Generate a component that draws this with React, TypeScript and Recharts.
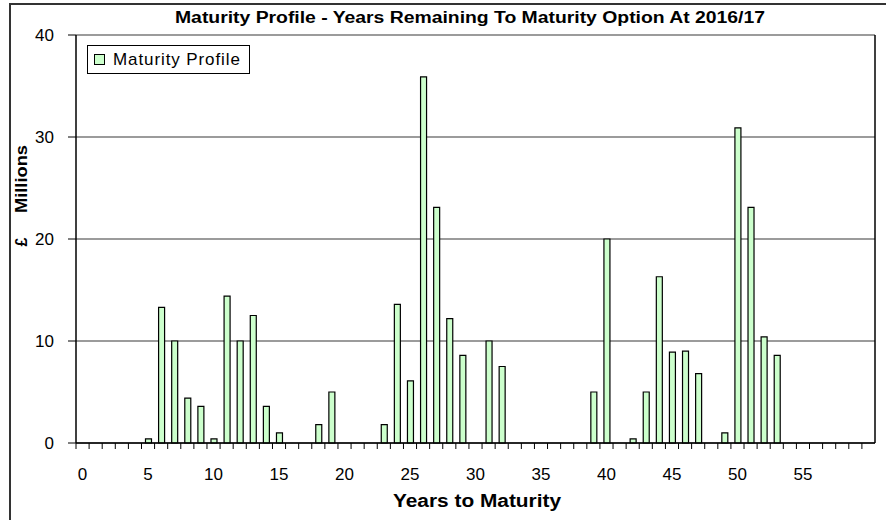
import * as React from "react"
import { BarChart, Bar, XAxis, YAxis, CartesianGrid, Legend } from "recharts"

// years remaining to maturity (0..60) and amounts in £ millions
const years: number[] = Array.from({ length: 61 }, (_, i) => i)
const maturity: number[] = [
    0, 0, 0, 0, 0, 0.4, 13.3, 10.0, 4.4, 3.6,
    0.4, 14.4, 10.0, 12.5, 3.6, 1.0, 0, 0, 1.8, 5.0,
    0, 0, 0, 1.8, 13.6, 6.1, 35.9, 23.1, 12.2, 8.6,
    0, 10.0, 7.5, 0, 0, 0, 0, 0, 0, 5.0,
    20.0, 0, 0.4, 5.0, 16.3, 8.9, 9.0, 6.8, 0, 1.0,
    30.9, 23.1, 10.4, 8.6, 0, 0, 0, 0, 0, 0,
    0,
]
const yTicks = [0, 10, 20, 30, 40]
const labelEvery = 5
const lastLabel = 55

const rows = years.map((y, i) => ({ year: y, value: maturity[i] > 0 ? maturity[i] : null }))

const W = 886
const H = 520
const M = { top: 35, right: 11, bottom: 37, left: 10 }
const Y_W = 66
const X_H = 40
const PLOT_RIGHT = W - M.right
const PLOT_BOTTOM = H - M.bottom - X_H
const BAND = (W - M.left - Y_W - M.right) / years.length
const FONT = "'Liberation Sans', Arial, sans-serif"

const XTick = (props: any) => {
    const { x, y, payload } = props
    const yr = payload.value as number
    const left = x - BAND / 2
    return (
        <g>
            <line x1={left} x2={left} y1={y} y2={y + 6} stroke="#000" strokeWidth={1} />
            {yr % labelEvery === 0 && yr <= lastLabel ? (
                <text x={x} y={y + 37} textAnchor="middle" fontSize={17} fill="#000" fontFamily={FONT}>
                    {yr}
                </text>
            ) : null}
        </g>
    )
}

const LegendBox = () => (
    <div
        style={{
            width: 161,
            height: 27,
            border: "1px solid #000",
            background: "#fff",
            display: "flex",
            alignItems: "center",
            fontFamily: FONT,
            fontSize: 17,
            letterSpacing: 0.9,
            whiteSpace: "nowrap",
        }}
    >
        <span
            style={{
                display: "inline-block",
                width: 9,
                height: 9,
                marginLeft: 6,
                marginRight: 8,
                background: "#ccffcc",
                border: "1px solid #000",
            }}
        />
        Maturity Profile
    </div>
)

export default function App() {
    return (
        <div style={{ position: "absolute", left: 0, top: 0, width: W, height: H, overflow: "hidden", background: "#fff" }}>
            <div
                style={{
                    position: "absolute",
                    left: 9,
                    top: 3,
                    width: 920,
                    height: 600,
                    border: "2px solid #333",
                }}
            />
            <BarChart width={W} height={H} data={rows} margin={M} style={{ position: "absolute", left: 0, top: 0 }}>
                <text
                    x={470}
                    y={23}
                    textAnchor="middle"
                    fontSize={16}
                    fontWeight="bold"
                    fontFamily={FONT}
                    fill="#000"
                    textLength={590}
                    lengthAdjust="spacingAndGlyphs"
                >
                    Maturity Profile - Years Remaining To Maturity Option At 2016/17
                </text>
                <CartesianGrid vertical={false} stroke="#7a7a7a" strokeWidth={1.5} />
                <XAxis
                    dataKey="year"
                    interval={0}
                    height={X_H}
                    tickSize={0}
                    tickMargin={0}
                    tickLine={false}
                    tick={<XTick />}
                    axisLine={{ stroke: "#000", strokeWidth: 1.5 }}
                />
                <YAxis
                    domain={[0, 40]}
                    ticks={yTicks}
                    width={Y_W}
                    tickSize={8}
                    tickMargin={14}
                    tickLine={{ stroke: "#000" }}
                    axisLine={{ stroke: "#000", strokeWidth: 1.5 }}
                    tick={{ fill: "#000", fontSize: 17, fontFamily: FONT }}
                />
                <Legend
                    verticalAlign="top"
                    align="center"
                    layout="horizontal"
                    content={<LegendBox />}
                    wrapperStyle={{ position: "absolute", left: 87, top: 45, width: "auto", height: 0 }}
                />
                <Bar dataKey="value" name="Maturity Profile" fill="#ccffcc" stroke="#000" strokeWidth={1.2} barSize={6} isAnimationActive={false} />
                <line x1={PLOT_RIGHT} x2={PLOT_RIGHT} y1={M.top} y2={PLOT_BOTTOM} stroke="#000" strokeWidth={1.5} />
                <text
                    x={27}
                    y={179}
                    transform="rotate(-90 27 179)"
                    textAnchor="middle"
                    fontSize={16}
                    fontWeight="bold"
                    fontFamily={FONT}
                    fill="#000"
                    textLength={68}
                    lengthAdjust="spacingAndGlyphs"
                >
                    Millions
                </text>
                <text
                    x={27}
                    y={242}
                    transform="rotate(-90 27 242)"
                    textAnchor="middle"
                    fontSize={16}
                    fontWeight="bold"
                    fontFamily={FONT}
                    fill="#000"
                >
                    £
                </text>
                <text
                    x={477}
                    y={507}
                    textAnchor="middle"
                    fontSize={18}
                    fontWeight="bold"
                    fontFamily={FONT}
                    fill="#000"
                    textLength={168}
                    lengthAdjust="spacingAndGlyphs"
                >
                    Years to Maturity
                </text>
            </BarChart>
        </div>
    )
}
